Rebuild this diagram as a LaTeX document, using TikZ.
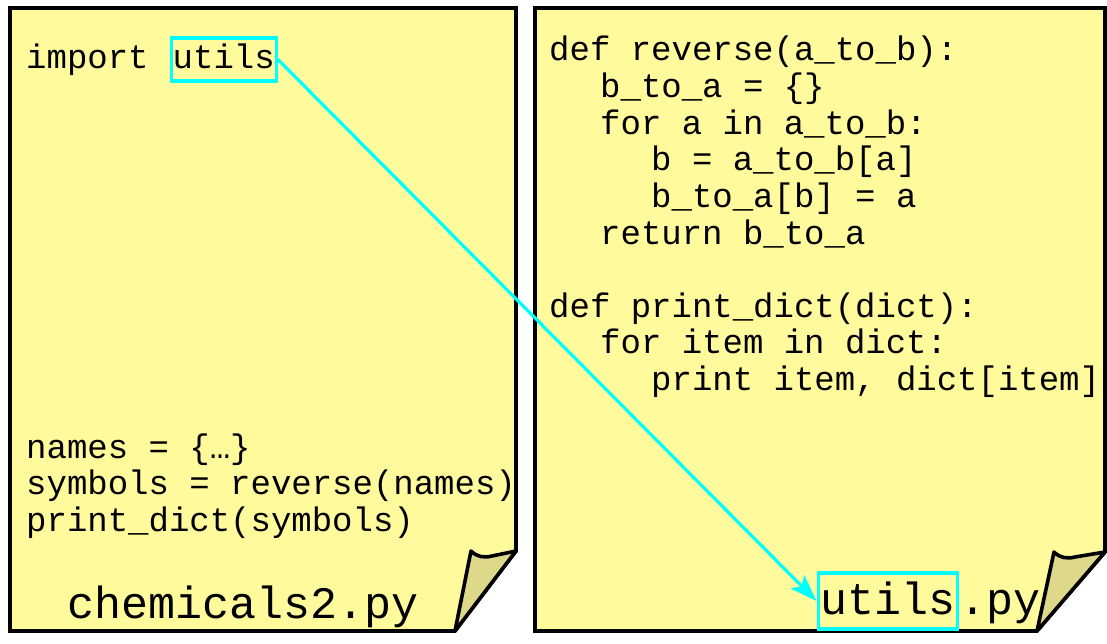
\documentclass[tikz,border=0pt]{standalone}
\usepackage{fontspec}
\setmonofont{Liberation Mono}
\usetikzlibrary{arrows.meta}
\definecolor{pageyellow}{RGB}{255,250,155}
\definecolor{foldyellow}{RGB}{221,216,138}
\definecolor{linkcyan}{RGB}{0,255,255}

\begin{document}
\begin{tikzpicture}[x=1pt,y=-1pt]

    \tikzset{
      page/.style={
        draw=black,
        line width=3.6pt,
        fill=pageyellow,
      },
      fold/.style={
        draw=black,
        line width=3.6pt,
        fill=foldyellow,
        line join=round,
      },
      code/.style={anchor=base west,inner sep=0pt,font=\ttfamily\fontsize{34}{36.6}\selectfont},
      fname/.style={anchor=base west,inner sep=0pt,font=\ttfamily\fontsize{45}{50}\selectfont},
      hilite/.style={draw=linkcyan,line width=3.4pt,anchor=base west},
    }
    \useasboundingbox (0,0) rectangle (1107,644);

	% left page
	\draw[page] (10,8)--(516,8)--(516,551)--(455,631)--(10,631)--cycle;
	\draw[fold] (455,631)--(471,551) .. controls (477,557) and (484,558) .. (492,556)--(516,551)--cycle;
	% right page
	\draw[page] (535,8)--(1105,8)--(1105,552)--(1037,631)--(535,631)--cycle;
	\draw[fold] (1037,631)--(1054,552) .. controls (1060,558) and (1067,559) .. (1075,557)--(1105,552)--cycle;

	% left code
	\draw (26,69) node[code] (imp) {import};
	\draw (169.5,69) node[code,hilite,inner xsep=1.5pt,inner ysep=3pt,text height=28pt,text depth=9pt] (lbox) {utils};
	\draw (26,458) node[code] (names) {names = \{…\}};
	\draw (26,494.6) node[code] (syms) {symbols = reverse(names)};
	\draw (26,531.2) node[code] (pdl) {print\_dict(symbols)};
	\draw (67,618) node[fname] (lname) {chemicals2.py};

	% right code
	\draw (549,61) node[code] (defr) {def reverse(a\_to\_b):};
	\draw (600,97.6) node[code] (init) {b\_to\_a = \{\}};
	\draw (600,134.2) node[code] (loop) {for a in a\_to\_b:};
	\draw (651,170.8) node[code] (getb) {b = a\_to\_b[a]};
	\draw (651,207.4) node[code] (seta) {b\_to\_a[b] = a};
	\draw (600,244) node[code] (ret) {return b\_to\_a};
	\draw (549,317.2) node[code] (defp) {def print\_dict(dict):};
	\draw (600,353.8) node[code] (loopi) {for item in dict:};
	\draw (651,390.4) node[code] (prt) {print item, dict[item]};
	\draw (816.5,614) node[fname,hilite,inner xsep=2pt,inner ysep=4pt,text height=37pt,text depth=11pt] (rbox) {utils};
	\draw (rbox.base east) node[fname] (ext) {.py};

	\draw[color=linkcyan,line width=3.2pt,-{Stealth[length=27pt,width=19pt,inset=6pt]}] (lbox.east)--(rbox.west);

\end{tikzpicture}
\end{document}
